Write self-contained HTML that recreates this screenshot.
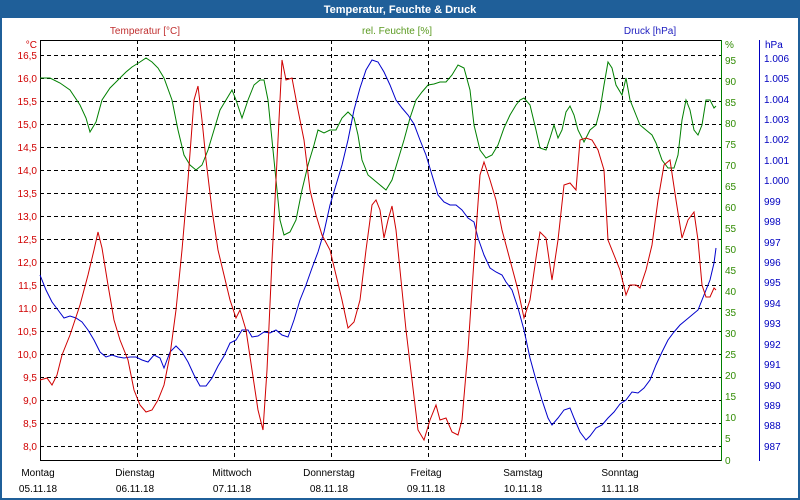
<!DOCTYPE html>
<html><head><meta charset="utf-8"><style>
html,body{margin:0;padding:0;background:#fff}
svg{display:block;font-family:"Liberation Sans",sans-serif}
</style></head><body>
<svg width="800" height="500" xmlns="http://www.w3.org/2000/svg">
<rect x="0" y="0" width="800" height="500" fill="#1f5f99"/>
<rect x="2" y="18" width="796" height="480" fill="#fff"/>
<text x="400" y="13" fill="#fff" font-size="11" font-weight="bold" text-anchor="middle">Temperatur, Feuchte &amp; Druck</text>
<text x="145" y="34" fill="#c03030" font-size="10" text-anchor="middle">Temperatur [°C]</text>
<text x="397" y="34" fill="#5a9a20" font-size="10" text-anchor="middle">rel. Feuchte [%]</text>
<text x="650" y="34" fill="#2020c0" font-size="10" text-anchor="middle">Druck [hPa]</text>
<g stroke="#000" stroke-dasharray="4,3" stroke-width="1">
<line x1="40" x2="721" y1="55.5" y2="55.5"/><line x1="40" x2="721" y1="78.5" y2="78.5"/><line x1="40" x2="721" y1="101.5" y2="101.5"/><line x1="40" x2="721" y1="124.5" y2="124.5"/><line x1="40" x2="721" y1="147.5" y2="147.5"/><line x1="40" x2="721" y1="170.5" y2="170.5"/><line x1="40" x2="721" y1="193.5" y2="193.5"/><line x1="40" x2="721" y1="216.5" y2="216.5"/><line x1="40" x2="721" y1="239.5" y2="239.5"/><line x1="40" x2="721" y1="262.5" y2="262.5"/><line x1="40" x2="721" y1="285.5" y2="285.5"/><line x1="40" x2="721" y1="308.5" y2="308.5"/><line x1="40" x2="721" y1="331.5" y2="331.5"/><line x1="40" x2="721" y1="354.5" y2="354.5"/><line x1="40" x2="721" y1="377.5" y2="377.5"/><line x1="40" x2="721" y1="400.5" y2="400.5"/><line x1="40" x2="721" y1="423.5" y2="423.5"/><line x1="40" x2="721" y1="446.5" y2="446.5"/>
<line x1="137.5" x2="137.5" y1="40" y2="460"/><line x1="234.5" x2="234.5" y1="40" y2="460"/><line x1="331.5" x2="331.5" y1="40" y2="460"/><line x1="428.5" x2="428.5" y1="40" y2="460"/><line x1="525.5" x2="525.5" y1="40" y2="460"/><line x1="622.5" x2="622.5" y1="40" y2="460"/>
</g>
<line x1="40.5" x2="40.5" y1="40" y2="461" stroke="#000"/>
<line x1="40" x2="721" y1="460.5" y2="460.5" stroke="#000"/>
<line x1="40" x2="721" y1="40.5" y2="40.5" stroke="#000"/>
<line x1="721.5" x2="721.5" y1="40" y2="461" stroke="#008000"/>
<line x1="759.5" x2="759.5" y1="40" y2="461" stroke="#0000c0"/>
<g font-size="10" fill="#d00000" text-anchor="end">
<text x="37" y="48">°C</text>
<text x="37" y="59">16,5</text><text x="37" y="82">16,0</text><text x="37" y="105">15,5</text><text x="37" y="128">15,0</text><text x="37" y="151">14,5</text><text x="37" y="174">14,0</text><text x="37" y="197">13,5</text><text x="37" y="220">13,0</text><text x="37" y="243">12,5</text><text x="37" y="266">12,0</text><text x="37" y="289">11,5</text><text x="37" y="312">11,0</text><text x="37" y="335">10,5</text><text x="37" y="358">10,0</text><text x="37" y="381">9,5</text><text x="37" y="404">9,0</text><text x="37" y="427">8,5</text><text x="37" y="450">8,0</text>
</g>
<g font-size="10" fill="#2e8b00">
<text x="725" y="48">%</text>
<text x="725" y="64">95</text><text x="725" y="85">90</text><text x="725" y="106">85</text><text x="725" y="127">80</text><text x="725" y="148">75</text><text x="725" y="169">70</text><text x="725" y="190">65</text><text x="725" y="211">60</text><text x="725" y="232">55</text><text x="725" y="253">50</text><text x="725" y="274">45</text><text x="725" y="295">40</text><text x="725" y="316">35</text><text x="725" y="337">30</text><text x="725" y="358">25</text><text x="725" y="379">20</text><text x="725" y="400">15</text><text x="725" y="421">10</text><text x="725" y="442">5</text><text x="725" y="464">0</text>
</g>
<g font-size="10" fill="#0000c0">
<text x="765" y="48">hPa</text>
<text x="764" y="62">1.006</text><text x="764" y="82">1.005</text><text x="764" y="103">1.004</text><text x="764" y="123">1.003</text><text x="764" y="143">1.002</text><text x="764" y="164">1.001</text><text x="764" y="184">1.000</text><text x="764" y="205">999</text><text x="764" y="225">998</text><text x="764" y="246">997</text><text x="764" y="266">996</text><text x="764" y="286">995</text><text x="764" y="307">994</text><text x="764" y="327">993</text><text x="764" y="348">992</text><text x="764" y="368">991</text><text x="764" y="389">990</text><text x="764" y="409">989</text><text x="764" y="429">988</text><text x="764" y="450">987</text>
</g>
<g font-size="10" fill="#000" text-anchor="middle">
<text x="38" y="476">Montag</text><text x="38" y="492">05.11.18</text>
<text x="135" y="476">Dienstag</text><text x="135" y="492">06.11.18</text>
<text x="232" y="476">Mittwoch</text><text x="232" y="492">07.11.18</text>
<text x="329" y="476">Donnerstag</text><text x="329" y="492">08.11.18</text>
<text x="426" y="476">Freitag</text><text x="426" y="492">09.11.18</text>
<text x="523" y="476">Samstag</text><text x="523" y="492">10.11.18</text>
<text x="620" y="476">Sonntag</text><text x="620" y="492">11.11.18</text>
</g>
<g fill="none" stroke-width="1">
<polyline stroke="#008000" points="40,78 50,78 60,83 70,90 80,105 86,118 90,132 96,122 102,100 110,88 118,80 126,72 132,67 140,62 146,58 152,62 158,68 164,78 172,100 178,130 184,155 190,165 196,170 202,165 208,150 214,130 220,110 226,100 232,90 236,100 242,118 248,100 254,85 260,80 264,80 268,100 272,140 276,180 280,220 284,235 290,232 296,220 302,190 308,165 314,145 318,130 324,133 330,130 336,130 342,118 348,112 354,118 358,135 362,160 368,175 374,180 380,185 386,190 392,180 398,160 404,140 410,118 416,100 422,92 428,85 434,84 440,82 446,82 452,75 458,65 464,68 470,90 474,125 480,150 486,158 492,155 498,145 504,128 510,115 516,105 520,100 524,98 530,105 536,130 540,148 546,150 550,138 554,125 558,138 562,130 566,112 570,106 574,115 578,130 584,142 590,130 596,125 600,110 604,85 608,62 612,68 616,85 622,95 626,78 630,100 636,115 640,125 646,130 652,135 656,143 662,160 668,168 674,168 678,155 682,120 686,100 690,110 694,130 698,135 702,125 706,100 710,100 714,108 716,106"/>
<polyline stroke="#0000cc" points="40,275 46,290 52,302 58,310 64,318 70,316 76,318 82,322 88,330 94,340 100,352 106,357 112,355 118,357 124,358 130,357 136,357 142,360 148,362 154,355 160,358 164,368 170,352 176,346 182,352 188,362 194,375 200,386 206,386 212,378 218,366 224,356 230,343 236,340 242,330 248,330 252,337 258,336 264,332 270,333 276,330 282,335 288,337 294,320 300,300 306,285 312,268 318,252 324,232 330,205 336,185 342,165 348,140 354,110 360,88 366,70 372,60 378,62 384,72 390,85 396,100 402,108 408,115 414,124 420,140 426,155 432,175 438,195 444,202 450,205 456,205 462,210 468,218 474,222 478,238 484,255 490,268 496,272 502,275 506,282 512,290 518,308 524,330 530,358 536,380 542,400 548,418 552,425 558,418 564,410 570,408 574,418 580,432 586,440 590,436 596,428 602,425 608,418 614,412 620,404 626,400 632,392 638,393 644,388 650,380 656,365 662,352 668,340 674,332 680,325 686,320 692,315 698,310 702,300 706,290 710,280 714,263 716,248"/>
<polyline stroke="#d00000" points="40,380 47,378 52,385 57,375 62,355 70,335 80,305 88,275 94,250 98,232 102,248 108,285 114,320 120,340 128,360 134,390 140,405 146,412 152,410 158,400 164,385 170,355 176,310 182,250 188,180 194,100 198,86 202,120 206,160 212,210 218,250 224,275 230,300 236,318 240,310 246,330 252,370 258,410 263,430 267,370 272,260 277,160 282,60 286,80 292,78 298,110 304,140 310,190 316,215 322,235 330,250 336,275 342,300 348,328 354,322 360,300 366,250 372,205 376,200 380,210 384,238 388,220 392,206 396,230 402,290 406,330 412,380 418,430 424,440 430,420 436,405 440,420 446,418 452,432 458,435 462,420 468,350 474,260 480,175 484,162 490,180 496,200 502,230 510,260 518,290 524,318 530,300 536,258 540,232 546,238 552,280 558,240 564,185 570,183 576,190 580,140 586,138 592,140 598,150 604,170 608,240 614,255 620,270 626,295 630,285 636,285 640,288 646,270 652,245 658,200 664,165 670,160 676,200 682,238 688,220 694,212 698,240 702,285 706,297 710,297 714,288 716,290"/>
</g>
</svg>
</body></html>
